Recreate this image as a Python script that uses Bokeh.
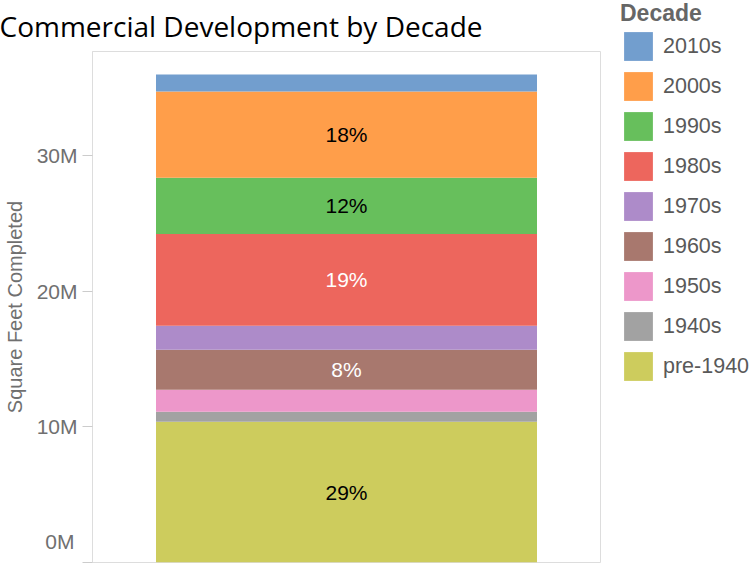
from bokeh.plotting import figure
from bokeh.models import (ColumnDataSource, Range1d, FixedTicker, CustomJSTickFormatter,
                          Legend, LegendItem, LinearAxis)
from bokeh.core.properties import value
from bokeh.embed import file_html
from bokeh.resources import INLINE

# ---- data ----
decades = ["pre-1940", "1940s", "1950s", "1960s", "1970s", "1980s", "1990s", "2000s", "2010s"]
sqft_millions = [10.37, 0.74, 1.62, 2.95, 1.77, 6.77, 4.15, 6.35, 1.25]
colors = ["#CDCC5D", "#A2A2A2", "#ED97CA", "#A8786E", "#AD8BC9",
          "#ED665D", "#67BF5C", "#FF9E4A", "#729ECE"]
label_colors = ["black", "black", "black", "white", "black",
                "white", "black", "black", "black"]
y_ticks = [0, 10e6, 20e6, 30e6]

values = [v * 1e6 for v in sqft_millions]
total = sum(values)
Y_MAX = 37.67e6
GRAY = "#707070"

p = figure(frame_width=508, frame_height=511, output_backend="svg", toolbar_location=None,
           x_range=Range1d(-0.5, 0.5), y_range=Range1d(0, Y_MAX),
           x_axis_type=None, min_border_left=92, min_border_right=151,
           min_border_top=51, min_border_bottom=1)
p.xgrid.visible = False
p.ygrid.visible = False
p.outline_line_color = "#dddddd"
p.outline_line_width = 1
p.background_fill_color = "white"
p.border_fill_color = "white"

# title
p.title.text = "Commercial Development by Decade"
p.title.align = "left"
p.title.vertical_align = "top"
p.title.offset = -93
p.title.standoff = 10
p.title.text_font = "Open Sans"
p.title.text_font_size = "28px"
p.title.text_font_style = "normal"
p.title.text_color = "black"

src = ColumnDataSource({"x": [0], **{d: [v] for d, v in zip(decades, values)}})
renderers = p.vbar_stack(decades, x="x", width=0.75, source=src,
                         fill_color=colors, line_color=None)

# percentage labels
mids, texts, tcols = [], [], []
cum = 0
for d, v, c in zip(decades, values, label_colors):
    pct = v / total * 100
    if pct >= 5:
        mids.append(cum + v / 2)
        texts.append(f"{round(pct)}%")
        tcols.append(c)
    cum += v
tsrc = ColumnDataSource({"x": [0] * len(mids), "y": mids, "t": texts, "c": tcols})
p.text(x="x", y="y", text="t", source=tsrc, text_color="c",
       text_font=value("Liberation Sans"), text_font_size="21px",
       text_align="center", text_baseline="middle")

# main y axis: ticks and 10M..30M labels
ax = p.yaxis[0]
ax.ticker = FixedTicker(ticks=y_ticks)
ax.formatter = CustomJSTickFormatter(code="return tick == 0 ? '' : (tick/1e6).toFixed(0) + 'M';")
ax.minor_tick_line_color = None
ax.major_tick_out = 10
ax.major_tick_in = 0
ax.major_tick_line_color = "#cccccc"
ax.axis_line_color = "#dddddd"
ax.major_label_text_font = "Liberation Sans"
ax.major_label_text_font_size = "21px"
ax.major_label_text_color = GRAY
ax.major_label_standoff = 5

# outer axis: the bottom-flush "0M" label and the axis title
zax = LinearAxis(ticker=FixedTicker(ticks=[0]),
                 formatter=CustomJSTickFormatter(code="return (tick/1e6).toFixed(0) + 'M';"),
                 axis_line_color=None, major_tick_line_color=None,
                 minor_tick_line_color=None, major_tick_out=0, major_tick_in=0,
                 major_label_standoff=-41, major_label_text_baseline="bottom",
                 major_label_text_line_height=0.7,
                 major_label_text_font="Liberation Sans",
                 major_label_text_font_size="21px", major_label_text_color=GRAY,
                 axis_label="Square Feet Completed", axis_label_standoff=16,
                 axis_label_text_font="Liberation Sans",
                 axis_label_text_font_size="20px",
                 axis_label_text_font_style="normal",
                 axis_label_text_color=GRAY)
p.add_layout(zax, "left")

# legend
items = [LegendItem(label=d, renderers=[r]) for d, r in zip(decades, renderers)][::-1]
legend = Legend(items=items, location=(20, 178), title="Decade",
                title_text_font="Liberation Sans", title_text_font_size="23px",
                title_text_font_style="bold", title_text_color="#666666",
                title_standoff=1,
                label_text_font="Liberation Sans", label_text_font_size="21.5px",
                label_text_color="#595959", label_standoff=7,
                glyph_width=36, glyph_height=36, label_height=36, spacing=4,
                padding=0, margin=-300, border_line_color=None,
                background_fill_alpha=0)
p.add_layout(legend, "right")

open("out.html", "w").write(file_html(p, INLINE))
